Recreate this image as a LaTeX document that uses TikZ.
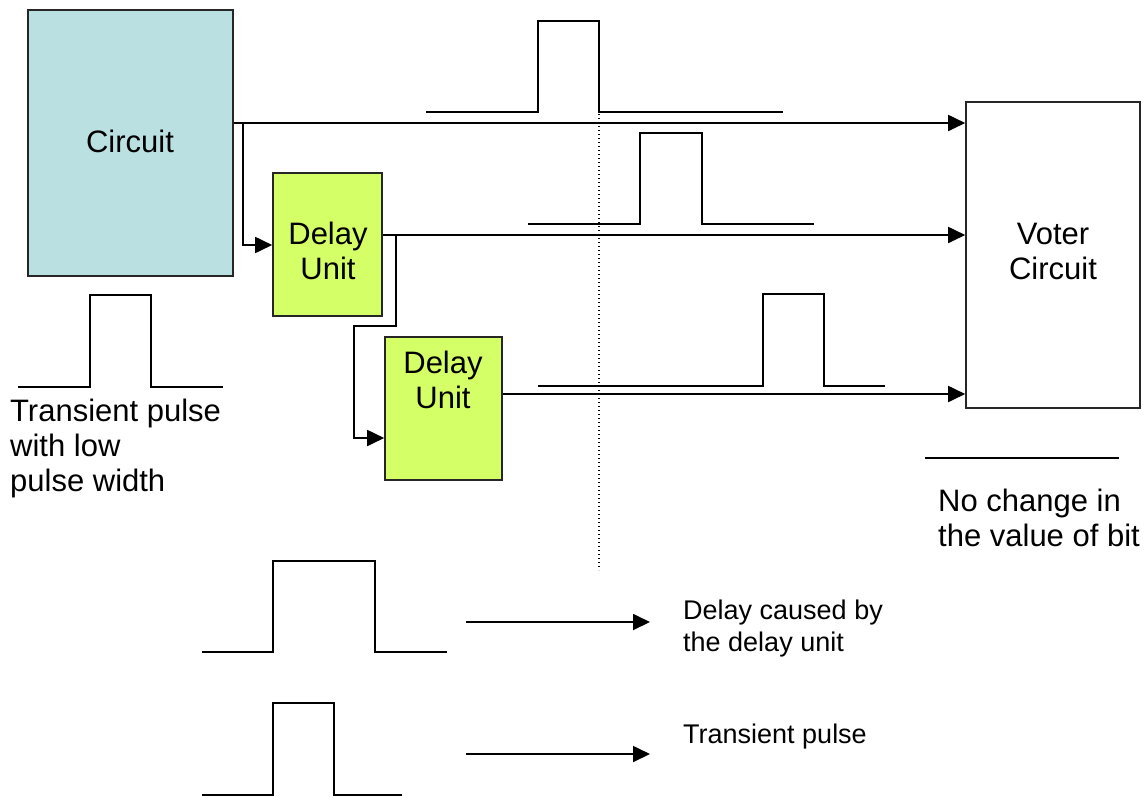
\documentclass[tikz,border=0pt]{standalone}
\usepackage{fontspec}
\setmainfont{Liberation Sans}
\usetikzlibrary{arrows.meta}
\definecolor{circfill}{RGB}{186,224,226}
\definecolor{delayfill}{RGB}{213,255,102}
\begin{document}
\begin{tikzpicture}[x=1pt,y=-1pt,
  blk/.style={draw=black!85, line width=1.6pt, inner sep=0pt},
  lbl/.style={font=\fontsize{31}{35}\selectfont, inner sep=0pt, align=center},
  smalllbl/.style={font=\fontsize{27}{32}\selectfont, inner sep=0pt, align=left, anchor=west},
  wire/.style={line width=1.8pt, line join=miter},
  tip/.style={-{Triangle[length=17pt,width=16pt]}},
  pulse/.style={line width=2pt, line join=miter}]
\useasboundingbox (0,0) rectangle (1147,796);

% blocks
\node[blk, fill=circfill, minimum width=205pt, minimum height=266pt] (circ) at (130.5,143) {};
\node[blk, fill=delayfill, minimum width=109pt, minimum height=143pt] (d1) at (327.5,244.5) {};
\node[blk, fill=delayfill, minimum width=117pt, minimum height=143pt] (d2) at (443.5,408.5) {};
\node[blk, fill=white, minimum width=174pt, minimum height=306pt] (voter) at (1053,255) {};

% block labels
\node[lbl] (circT) at (130,141) {Circuit};
\node[lbl] (d1T) at (328,251) {Delay\\Unit};
\node[lbl] (d2T) at (443,380) {Delay\\Unit};
\node[lbl] (voterT) at (1053,251) {Voter\\Circuit};

% wires
\coordinate (j1) at (243,123);
\coordinate (j1b) at (243,245);
\draw[wire,tip] (circ.east |- j1) -- (voter.west |- j1);
\draw[wire,tip] (j1) -- (j1b) -- (d1.west |- j1b);

\coordinate (j2) at (396,235);
\coordinate (j2a) at (396,326);
\coordinate (j2b) at (354,326);
\coordinate (j2c) at (354,438);
\draw[wire,tip] (d1.east |- j2) -- (voter.west |- j2);
\draw[wire,tip] (j2) -- (j2a) -- (j2b) -- (j2c) -- (d2.west |- j2c);

\coordinate (j3) at (502,394);
\draw[wire,tip] (d2.east |- j3) -- (voter.west |- j3);

% pulses on the lines
\draw[pulse] (426,112) -- (538,112) -- (538,21) -- (599,21) -- (599,112) -- (783,112);
\draw[pulse] (528,224) -- (640,224) -- (640,133) -- (702,133) -- (702,224) -- (814,224);
\draw[pulse] (538,386) -- (763,386) -- (763,294) -- (824,294) -- (824,386) -- (885,386);

% dotted reference line
\draw[line width=1.3pt, dash pattern=on 1.4pt off 2.6pt] (599,70) -- (599,570);

% left pulse
\draw[pulse] (18,387) -- (90,387) -- (90,295) -- (151,295) -- (151,387) -- (223,387);
\node[lbl, align=left, anchor=west] (leftT) at (10,448) {Transient pulse\\with low\\pulse width};

% voter output
\draw[pulse] (925,458) -- (1119,458);
\node[lbl, align=left, anchor=west] (noch) at (938,518) {No change in\\the value of bit};

% legend
\draw[pulse] (202,652) -- (273,652) -- (273,561) -- (375,561) -- (375,652) -- (447,652);
\draw[pulse] (202,795) -- (273,795) -- (273,703) -- (334,703) -- (334,795) -- (402,795);
\coordinate (a1s) at (466,622);
\coordinate (a1e) at (650,622);
\coordinate (a2s) at (466,754);
\coordinate (a2e) at (650,754);
\draw[wire,tip] (a1s) -- (a1e);
\draw[wire,tip] (a2s) -- (a2e);
\node[smalllbl] (dc) at (683,629) {Delay caused by\\the delay unit};
\node[smalllbl] (tp) at (683,737) {Transient pulse};
\end{tikzpicture}
\end{document}
